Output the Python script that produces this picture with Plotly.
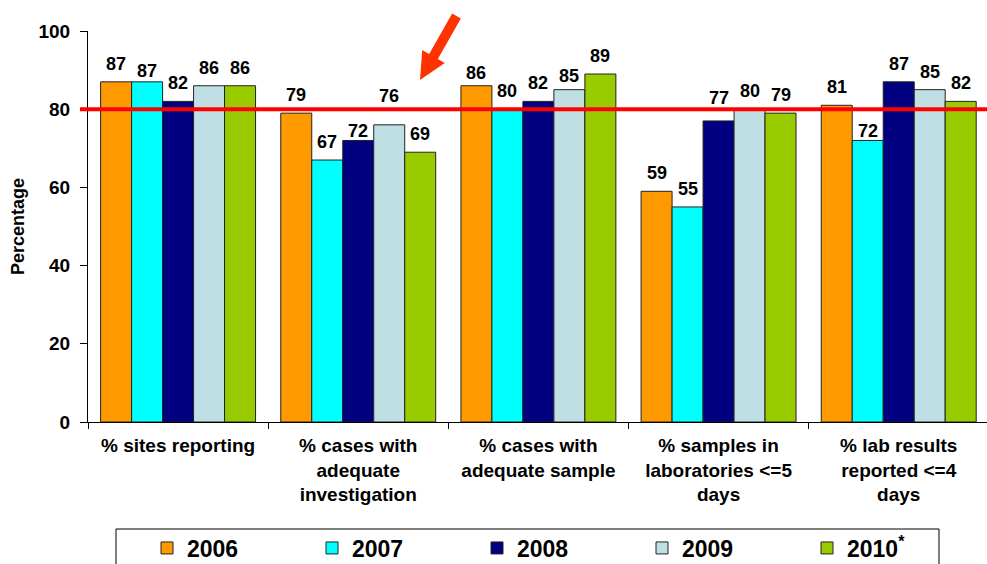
import plotly.graph_objects as go

categories = [
    "% sites reporting",
    "% cases with<br>adequate<br>investigation",
    "% cases with<br>adequate sample",
    "% samples in<br>laboratories <=5<br>days",
    "% lab results<br>reported <=4<br>days",
]
years = ["2006", "2007", "2008", "2009", "2010<sup>*</sup>"]
v2006 = [87, 79, 86, 59, 81]
v2007 = [87, 67, 80, 55, 72]
v2008 = [82, 72, 82, 77, 87]
v2009 = [86, 76, 85, 80, 85]
v2010 = [86, 69, 89, 79, 82]
series = [v2006, v2007, v2008, v2009, v2010]
colors = ["#FF9900", "#00FFFF", "#000080", "#BFDFE5", "#99CC00"]
target = 80

# small label nudges (pixels) as placed in the original: (series, category) -> dy
label_nudge = {(1, 0): -7, (2, 1): -9, (3, 1): 11, (0, 2): -5, (3, 2): -4,
               (2, 3): 5, (1, 4): -9}

W, H = 987, 564
L, R, T, B = 88, 0, 31, 142
pw, ph = W - L - R, H - T - B
FONT = "Liberation Sans, Arial, sans-serif"

fig = go.Figure()
for name, vals, col in zip(years, series, colors):
    fig.add_trace(go.Bar(
        x=categories, y=vals, name=name,
        marker=dict(color=col, line=dict(color="#222222", width=1)),
    ))

# data labels
bargap = 0.14
bw = (1 - bargap) / len(series)
anns = []
for i, vals in enumerate(series):
    off = (i - (len(series) - 1) / 2) * bw
    for j, v in enumerate(vals):
        anns.append(dict(x=j + off, y=v, xref="x", yref="y", text=str(v),
                         showarrow=False, yanchor="bottom",
                         yshift=6 + label_nudge.get((i, j), 0),
                         font=dict(family=FONT, size=18, color="black", weight="bold")))

def px2paper(px, py):
    return ((px - L) / pw, (H - B - py) / ph)

arrow_px = [(460.85, 18.5), (437.85, 59), (444.8, 63), (420, 80),
            (422.2, 50), (429.15, 54), (452.15, 13.5)]
pts = [px2paper(x, y) for x, y in arrow_px]
path = "M " + " L ".join(f"{x:.5f},{y:.5f}" for x, y in pts) + " Z"

lx0, ly0 = px2paper(116, 529)
lx1, ly1 = px2paper(939, 580)

fig.update_layout(
    width=W, height=H,
    margin=dict(l=L, r=R, t=T, b=B, autoexpand=False),
    paper_bgcolor="white", plot_bgcolor="white",
    barmode="group", bargap=bargap, bargroupgap=0,
    font=dict(family=FONT, color="black"),
    xaxis=dict(
        range=[-0.5, 4.49], showline=True, linecolor="black", linewidth=1,
        ticks="outside", tickson="boundaries", ticklen=6, tickcolor="black",
        tickfont=dict(family=FONT, size=19, color="black", weight="bold"),
        ticklabelstandoff=6,
        showgrid=False, automargin=False,
    ),
    yaxis=dict(
        range=[0, 100], dtick=20, showline=True, linecolor="black", linewidth=1,
        ticks="outside", ticklen=7, tickcolor="black", showgrid=False, zeroline=False,
        tickfont=dict(family=FONT, size=19, color="black", weight="bold"),
        ticklabelstandoff=6,
        title=dict(text="Percentage", standoff=9,
                   font=dict(family=FONT, size=18, color="black", weight="bold")),
        automargin=False,
    ),
    legend=dict(
        orientation="h", x=px2paper(147, 0)[0], y=px2paper(0, 548)[1],
        xanchor="left", yanchor="middle",
        borderwidth=0, bgcolor="rgba(0,0,0,0)",
        entrywidth=120, entrywidthmode="pixels", itemwidth=30,
        font=dict(family=FONT, size=23, color="black", weight="bold"),
        traceorder="normal",
    ),
    annotations=anns,
    shapes=[
        dict(type="line", xref="paper", yref="y", x0=-8 / pw, x1=1, y0=target, y1=target,
             line=dict(color="#FF0000", width=4), layer="above"),
        dict(type="path", xref="paper", yref="paper", path=path,
             fillcolor="#FF3300", line=dict(width=0), layer="above"),
        dict(type="rect", xref="paper", yref="paper", x0=lx0, x1=lx1, y0=ly1, y1=ly0,
             line=dict(color="black", width=1), fillcolor="rgba(0,0,0,0)", layer="below"),
    ],
)

fig.write_html("out.html", config={"displayModeBar": False},
               post_script="document.body.style.margin='0';document.body.style.overflow='hidden';")
